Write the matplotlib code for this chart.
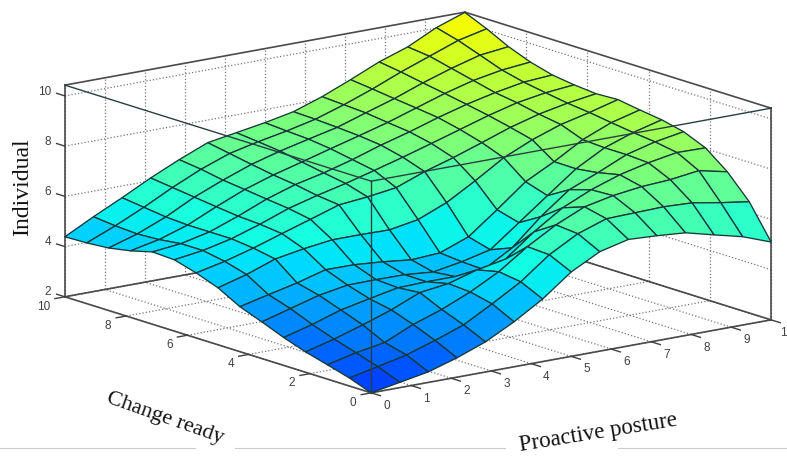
import matplotlib
matplotlib.use('Agg')
import matplotlib.pyplot as plt
import numpy as np
from matplotlib.lines import Line2D
from mpl_toolkits.mplot3d import proj3d

# surface heights, one row per y grid line (y=0 first), 15 points along x
grid_pos = [0, 0.714, 1.429, 2.143, 2.857, 3.571, 4.286, 5, 5.714, 6.429, 7.143, 7.857, 8.571, 9.286, 10]
z_vals = [
    [2.0, 2.21, 2.42, 2.77, 3.2, 3.79, 4.49, 5.36, 5.96, 6.24, 6.18, 6.09, 5.8, 5.52, 5.10],
    [2.32, 2.56, 2.82, 3.19, 3.6, 4.23, 4.9, 5.77, 6.4, 6.79, 6.82, 6.85, 6.8, 6.6, 6.43],
    [2.57, 2.84, 3.04, 3.55, 3.94, 4.43, 5.03, 5.82, 6.48, 6.99, 7.23, 7.38, 7.45, 7.6, 7.35],
    [2.81, 3.11, 3.47, 3.86, 4.34, 4.49, 4.83, 5.05, 5.93, 6.68, 7.19, 7.58, 7.85, 8.05, 8.03],
    [3.11, 3.42, 3.79, 4.03, 4.26, 4.29, 4.29, 4.36, 5.02, 6.05, 6.92, 7.39, 7.9, 8.2, 8.40],
    [3.46, 3.78, 4.1, 4.3, 4.31, 4.3, 4.2, 4.4, 4.67, 5.54, 6.41, 7.27, 7.9, 8.3, 8.6],
    [3.79, 4.06, 4.32, 4.64, 4.63, 4.54, 4.41, 4.48, 4.91, 5.78, 6.69, 7.28, 7.95, 8.42, 8.72],
    [4.27, 4.59, 5.0, 5.2, 5.35, 5.35, 5.33, 5.53, 6.0, 6.66, 7.37, 7.88, 8.28, 8.55, 8.86],
    [4.59, 4.84, 5.16, 5.53, 5.89, 6.26, 6.37, 6.53, 6.96, 7.31, 7.7, 8.1, 8.42, 8.65, 8.82],
    [4.84, 5.0, 5.26, 5.63, 6.05, 6.36, 6.63, 6.94, 7.26, 7.6, 7.95, 8.3, 8.6, 8.79, 8.90],
    [4.88, 5.0, 5.26, 5.68, 6.15, 6.52, 6.78, 7.1, 7.47, 7.79, 8.15, 8.47, 8.73, 8.94, 9.02],
    [4.65, 4.89, 5.26, 5.78, 6.26, 6.63, 6.94, 7.26, 7.57, 7.89, 8.26, 8.63, 8.94, 9.15, 9.26],
    [4.49, 4.84, 5.31, 5.89, 6.36, 6.78, 7.1, 7.37, 7.63, 8.0, 8.36, 8.78, 9.15, 9.47, 9.6],
    [4.42, 4.89, 5.42, 6.0, 6.52, 6.94, 7.2, 7.42, 7.68, 8.05, 8.47, 8.94, 9.36, 9.78, 10.04],
    [4.39, 4.98, 5.53, 6.11, 6.63, 7.1, 7.29, 7.48, 7.71, 8.1, 8.57, 9.07, 9.46, 10.02, 10.42],
]
x_ticks = [0, 1, 2, 3, 4, 5, 6, 7, 8, 9, 10]
y_ticks = [0, 2, 4, 6, 8, 10]
z_ticks = [2, 4, 6, 8, 10]
z_low, z_top = 2, 10.43

W, H = 787, 457
fig = plt.figure(figsize=(W / 100, H / 100), dpi=100)

# big square axes so nothing is clipped, placed in pixels
side = 1000
ax = fig.add_axes([-95.5 / W, -259 / H, side / W, side / H], projection='3d', computed_zorder=False)
ax.set_proj_type('ortho')
ax.view_init(elev=13.84, azim=-127.34)
ax.set_box_aspect((503, 505, 218), zoom=0.7236)
ax.set_xlim(0, 10)
ax.set_ylim(0, 10)
ax.set_zlim(z_low, z_top)
ax.set_axis_off()
ax.patch.set_alpha(0)

box_col = '#4a4a4a'
grid_col = '#777777'
tick_col = '#404040'


def tick_text(x, y, z, s, ha):
    # project once and keep it a plain 2D label
    px, py, _ = proj3d.proj_transform(x, y, z, ax.get_proj())
    ax.text2D(px, py, s, transform=ax.transData, ha=ha, va='center', fontsize=8.5, color=tick_col, family='Liberation Sans')


# dotted grid on the floor and the two back walls
for v in x_ticks:
    ax.plot([v, v], [0, 10], [z_low, z_low], ls=':', lw=0.9, color=grid_col, zorder=1)
    ax.plot([v, v], [10, 10], [z_low, z_top], ls=':', lw=0.9, color=grid_col, zorder=1)
for v in y_ticks:
    ax.plot([0, 10], [v, v], [z_low, z_low], ls=':', lw=0.9, color=grid_col, zorder=1)
    ax.plot([10, 10], [v, v], [z_low, z_top], ls=':', lw=0.9, color=grid_col, zorder=1)
for v in z_ticks:
    ax.plot([0, 10], [10, 10], [v, v], ls=':', lw=0.9, color=grid_col, zorder=1)
    ax.plot([10, 10], [0, 10], [v, v], ls=':', lw=0.9, color=grid_col, zorder=1)

# box edges behind the surface
back_edges = [
    ([0, 10], [10, 10], [z_low, z_low]), ([10, 10], [0, 10], [z_low, z_low]),
    ([0, 10], [10, 10], [z_top, z_top]), ([10, 10], [0, 10], [z_top, z_top]),
    ([0, 0], [10, 10], [z_low, z_top]), ([10, 10], [0, 0], [z_low, z_top]),
    ([0, 10], [0, 0], [z_low, z_low]), ([0, 0], [0, 10], [z_low, z_low]),
]
for xs, ys, zs in back_edges:
    ax.plot(xs, ys, zs, color=box_col, lw=1.2, zorder=2)

X, Y = np.meshgrid(grid_pos, grid_pos)
Z = np.array(z_vals)
ax.plot_surface(X, Y, Z, rstride=1, cstride=1, cmap='jet', vmin=-1.1, vmax=16.3, shade=False,
                edgecolor='#17383a', linewidth=0.95, antialiased=True, zorder=3)

# box edges in front of the surface
front_edges = [
    ([0, 0], [0, 0], [z_low, z_top]),
    ([0, 10], [0, 0], [z_top, z_top]),
    ([0, 0], [0, 10], [z_top, z_top]),
]
for xs, ys, zs in front_edges:
    ax.plot(xs, ys, zs, color='#2a3f40', lw=1.0, zorder=4)

# ticks and their labels
for v in x_ticks:
    ax.plot([v, v], [0, -0.3], [z_low, z_low], color=tick_col, lw=1.0, zorder=5)
    tick_text(v, -0.5, 1.67, str(v), 'center')
for v in y_ticks:
    ax.plot([0, -0.25], [v, v], [z_low, z_low], color=tick_col, lw=1.0, zorder=5)
    tick_text(-0.37, v, 1.72, str(v), 'right')
for v in z_ticks:
    ax.plot([0, 0], [10, 10.27], [v, v], color=tick_col, lw=1.0, zorder=5)
    tick_text(0, 10.45, v, str(v), 'right')

# axis titles were typed over the picture, so they sit in figure coords
serif = 'Liberation Serif'
fig.text(23 / W, 1 - 187 / H, 'Individual', rotation=90, ha='center', va='center', fontsize=17, family=serif, color='#111111')
fig.text(165 / W, 1 - 418 / H, 'Change ready', rotation=-19.4, ha='center', va='center', fontsize=16, family=serif, color='#111111')
fig.text(598 / W, 1 - 433 / H, 'Proactive posture', rotation=9.2, ha='center', va='center', fontsize=16.5, family=serif, color='#111111')

# faint rule along the bottom, broken around the titles
for x0, x1 in [(0, 195), (235, 505), (618, 787)]:
    fig.add_artist(Line2D([x0 / W, x1 / W], [1 - 447.5 / H, 1 - 447.5 / H], color='#cccccc', lw=0.8))

fig.savefig('out.png', dpi=100)
plt.close()
